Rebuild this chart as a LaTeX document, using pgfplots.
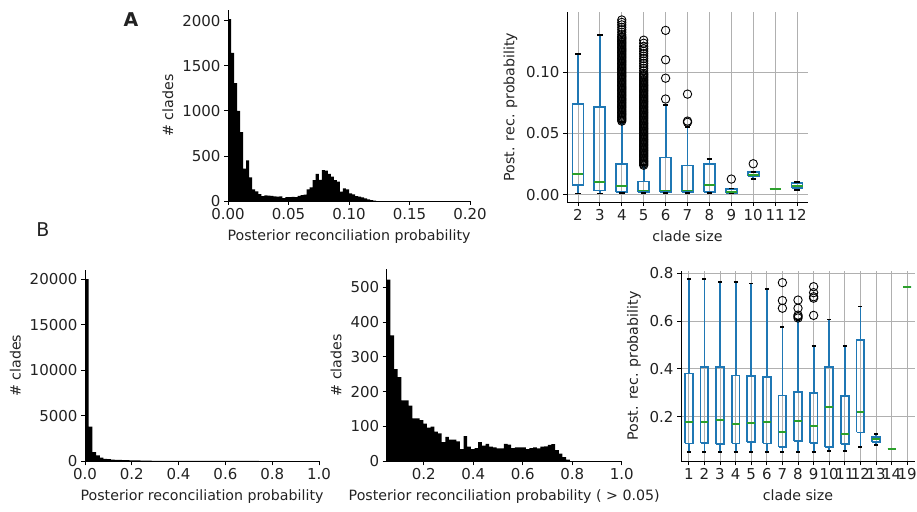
\documentclass[border=0pt]{standalone}
\usepackage{fontspec}
\setmainfont{DejaVu Sans}
\usepackage{pgfplots}
\pgfplotsset{compat=1.18}
\definecolor{c0}{HTML}{1F77B4}
\definecolor{c2}{HTML}{2CA02C}
\definecolor{gridc}{HTML}{B0B0B0}
\definecolor{txt}{HTML}{222222}
\pgfplotsset{
  base/.style={
    scale only axis, at={(0pt,0pt)}, anchor=south west,
    axis x line*=bottom, axis y line*=left,
    tick align=outside, tick pos=left,
    major tick length=4pt,
    every tick/.style={black, line width=0.9pt},
    axis line style={black, line width=0.9pt},
    tick label style={font=\fontsize{15}{17}\selectfont, text=txt},
    label style={font=\fontsize{14.2}{16}\selectfont, text=txt},
    xlabel style={yshift=-3pt},
    ylabel style={yshift=2pt},
    /pgf/number format/assume math mode=true,
    scaled ticks=false, clip=false,
  },
  boxax/.style={base, grid=major, grid style={gridc, line width=0.9pt}},
  outl/.style={only marks, mark=o, mark size=4.2pt, mark options={draw=black, fill=none, line width=0.9pt}},
}
% box: position, lower whisker, lower quartile, median, upper quartile, upper whisker
\newcommand\bx[6]{%
  \pgfmathsetmacro\bxl{#1-0.25}\pgfmathsetmacro\bxr{#1+0.25}%
  \pgfmathsetmacro\cpl{#1-0.125}\pgfmathsetmacro\cpr{#1+0.125}%
  \addplot[c0, line width=1.8pt] coordinates {(#1,#2) (#1,#3)};
  \addplot[c0, line width=1.8pt] coordinates {(#1,#5) (#1,#6)};
  \addplot[c0, line width=1.8pt] coordinates {(\bxl,#3) (\bxr,#3) (\bxr,#5) (\bxl,#5) (\bxl,#3)};
  \addplot[black, line width=1.8pt] coordinates {(\cpl,#2) (\cpr,#2)};
  \addplot[black, line width=1.8pt] coordinates {(\cpl,#6) (\cpr,#6)};
  \addplot[c2, line width=1.8pt] coordinates {(\bxl,#4) (\bxr,#4)};
}
\begin{document}
\begin{tikzpicture}
\path[use as bounding box] (0pt,0pt) rectangle (917pt,511pt);

% ---------- A left histogram
\begin{scope}[shift={(228pt,310pt)}]
\begin{axis}[base, width=242pt, height=191pt,
  xmin=0, xmax=0.2, ymin=0, ymax=2121,
  xtick={0,0.05,0.1,0.15,0.2}, xticklabels={0.00,0.05,0.10,0.15,0.20},
  ytick={0,500,1000,1500,2000}, yticklabels={0,500,1000,1500,2000},
  xlabel={Posterior reconciliation probability}, ylabel={\# clades}]
\addplot[fill=black, draw=none, const plot mark left] coordinates {
(0,2020) (0.0025,1645) (0.005,1310) (0.0075,1000) (0.01,765) (0.0125,360) (0.015,450) (0.0175,262)
(0.02,130) (0.0225,108) (0.025,75) (0.0275,55) (0.03,62) (0.0325,60) (0.035,57) (0.0375,52)
(0.04,48) (0.0425,52) (0.045,32) (0.0475,42) (0.05,42) (0.0525,46) (0.055,44) (0.0575,58)
(0.06,65) (0.0625,70) (0.065,130) (0.0675,150) (0.07,233) (0.0725,300) (0.075,235) (0.0775,344)
(0.08,337) (0.0825,300) (0.085,270) (0.0875,233) (0.09,214) (0.0925,104) (0.095,140) (0.0975,130)
(0.1,85) (0.1025,74) (0.105,55) (0.1075,48) (0.11,41) (0.1125,30) (0.115,18) (0.1175,11)
(0.12,4) (0.1225,0)} \closedcycle;
\end{axis}
\end{scope}

% ---------- A right boxplot
\begin{scope}[shift={(567pt,309pt)}]
\begin{axis}[boxax, width=241pt, height=190pt,
  xmin=0.5, xmax=11.5, ymin=-0.006, ymax=0.149,
  xtick={1,2,3,4,5,6,7,8,9,10,11}, xticklabels={2,3,4,5,6,7,8,9,10,11,12},
  ytick={0,0.05,0.1}, yticklabels={0.00,0.05,0.10},
  xlabel={clade size}, ylabel={Post. rec. probability}]
\bx{1}{0.001}{0.0076}{0.0168}{0.074}{0.1146}
\bx{2}{0.001}{0.0033}{0.0106}{0.0718}{0.130}
\bx{3}{0.0016}{0.002}{0.0068}{0.0252}{0.059}
\bx{4}{0.0016}{0.002}{0.0033}{0.0108}{0.024}
\bx{5}{0.0016}{0.002}{0.0033}{0.0303}{0.073}
\bx{6}{0.0016}{0.002}{0.0033}{0.0238}{0.0555}
\bx{7}{0.0016}{0.0022}{0.0076}{0.025}{0.029}
\bx{8}{0.0011}{0.0013}{0.0024}{0.0046}{0.005}
\bx{9}{0.013}{0.0149}{0.0163}{0.0184}{0.0185}
\bx{10}{0.0046}{0.0046}{0.0046}{0.0046}{0.0046}
\bx{11}{0.0035}{0.0057}{0.007}{0.0092}{0.0105}
\addplot[outl] coordinates {
(3,0.1425) (3,0.1405) (3,0.1385) (3,0.1365) (3,0.1345) (3,0.1325) (3,0.1305) (3,0.129) (3,0.128) (3,0.127)
(3,0.126) (3,0.125) (3,0.124) (3,0.123) (3,0.122) (3,0.121) (3,0.120) (3,0.119) (3,0.118) (3,0.117)
(3,0.116) (3,0.115) (3,0.114) (3,0.113) (3,0.112) (3,0.111) (3,0.110) (3,0.109) (3,0.108) (3,0.107)
(3,0.106) (3,0.105) (3,0.104) (3,0.103) (3,0.102) (3,0.101) (3,0.100) (3,0.099) (3,0.098) (3,0.097)
(3,0.096) (3,0.095) (3,0.094) (3,0.093) (3,0.092) (3,0.091) (3,0.090) (3,0.089) (3,0.088) (3,0.087)
(3,0.086) (3,0.085) (3,0.084) (3,0.083) (3,0.082) (3,0.081) (3,0.080) (3,0.079) (3,0.078) (3,0.077)
(3,0.076) (3,0.075) (3,0.074) (3,0.073) (3,0.072) (3,0.071) (3,0.070) (3,0.069) (3,0.068) (3,0.067)
(3,0.066) (3,0.065) (3,0.064) (3,0.063) (3,0.062) (3,0.061) (3,0.060)
(4,0.126) (4,0.1235) (4,0.121) (4,0.119) (4,0.117) (4,0.115) (4,0.113) (4,0.111) (4,0.109) (4,0.107)
(4,0.105) (4,0.103) (4,0.101) (4,0.099) (4,0.098) (4,0.097) (4,0.096) (4,0.095) (4,0.094) (4,0.093)
(4,0.092) (4,0.091) (4,0.090) (4,0.089) (4,0.088) (4,0.087) (4,0.086) (4,0.085) (4,0.084) (4,0.083)
(4,0.082) (4,0.081) (4,0.080) (4,0.079) (4,0.078) (4,0.077) (4,0.076) (4,0.075) (4,0.074) (4,0.073)
(4,0.072) (4,0.071) (4,0.070) (4,0.069) (4,0.068) (4,0.067) (4,0.066) (4,0.065) (4,0.064) (4,0.063)
(4,0.062) (4,0.061) (4,0.060) (4,0.059) (4,0.058) (4,0.057) (4,0.056) (4,0.055) (4,0.054) (4,0.053)
(4,0.052) (4,0.051) (4,0.050) (4,0.049) (4,0.048) (4,0.047) (4,0.046) (4,0.045) (4,0.044) (4,0.043)
(4,0.042) (4,0.041) (4,0.040) (4,0.039) (4,0.038) (4,0.037) (4,0.036) (4,0.035) (4,0.034) (4,0.033)
(4,0.032) (4,0.031) (4,0.030) (4,0.029) (4,0.028) (4,0.027) (4,0.026) (4,0.025) (4,0.024)
(5,0.078) (5,0.095) (5,0.110) (5,0.134)
(6,0.059) (6,0.060) (6,0.082)
(8,0.0127) (9,0.0252)};
\end{axis}
\end{scope}

% ---------- B left histogram
\begin{scope}[shift={(85pt,49.7pt)}]
\begin{axis}[base, width=234pt, height=191.3pt,
  xmin=0, xmax=1, ymin=0, ymax=21021,
  xtick={0,0.2,0.4,0.6,0.8,1}, xticklabels={0.0,0.2,0.4,0.6,0.8,1.0},
  ytick={0,5000,10000,15000,20000}, yticklabels={0,5000,10000,15000,20000},
  xlabel={Posterior reconciliation probability}, ylabel={\# clades}]
\addplot[fill=black, draw=none, const plot mark left] coordinates {
(0,20020) (0.0158,3800) (0.0316,1000) (0.0474,650) (0.0632,400) (0.079,280) (0.0948,240) (0.1106,180)
(0.1264,170) (0.1422,150) (0.158,125) (0.1738,120) (0.1896,110) (0.2054,100) (0.2212,90) (0.237,85)
(0.2528,75) (0.2686,65) (0.2844,60) (0.3002,60) (0.316,55) (0.3318,50) (0.3476,45) (0.3634,45)
(0.3792,45) (0.395,45) (0.4108,40) (0.4266,40) (0.4424,40) (0.4582,40) (0.474,40) (0.4898,40)
(0.5056,40) (0.5214,40) (0.5372,40) (0.553,40) (0.5688,40) (0.5846,40) (0.6004,40) (0.6162,40)
(0.632,40) (0.6478,40) (0.6636,40) (0.6794,40) (0.6952,45) (0.711,45) (0.7268,35) (0.7426,20)
(0.7584,10) (0.7742,5) (0.79,0)} \closedcycle;
\end{axis}
\end{scope}

% ---------- B middle histogram
\begin{scope}[shift={(386.7pt,49.7pt)}]
\begin{axis}[base, width=235pt, height=192pt,
  xmin=0.05, xmax=1, ymin=0, ymax=551.7,
  xtick={0.2,0.4,0.6,0.8,1}, xticklabels={0.2,0.4,0.6,0.8,1.0},
  ytick={0,100,200,300,400,500}, yticklabels={0,100,200,300,400,500},
  xlabel={Posterior reconciliation probability ( > 0.05)}, ylabel={\# clades}]
\addplot[fill=black, draw=none, const plot mark left] coordinates {
(0.05,522) (0.0648,362) (0.0796,265) (0.0944,242) (0.1092,175) (0.124,175) (0.1388,160) (0.1536,123)
(0.1684,123) (0.1832,118) (0.198,108) (0.2128,97) (0.2276,100) (0.2424,85) (0.2572,80) (0.272,55)
(0.2868,70) (0.3016,62) (0.3164,62) (0.3312,57) (0.346,35) (0.3608,72) (0.3756,42) (0.3904,35)
(0.4052,38) (0.42,55) (0.4348,45) (0.4496,50) (0.4644,42) (0.4792,40) (0.494,37) (0.5088,37)
(0.5236,50) (0.5384,48) (0.5532,38) (0.568,40) (0.5828,40) (0.5976,40) (0.6124,35) (0.6272,38)
(0.642,40) (0.6568,37) (0.6716,42) (0.6864,43) (0.7012,47) (0.716,49) (0.7308,32) (0.7456,22)
(0.7604,12) (0.7752,5) (0.79,0)} \closedcycle;
\end{axis}
\end{scope}

% ---------- B right boxplot
\begin{scope}[shift={(681pt,50pt)}]
\begin{axis}[boxax, width=234pt, height=190.3pt,
  xmin=0.5, xmax=15.5, ymin=0.0144, ymax=0.811,
  xtick={1,2,3,4,5,6,7,8,9,10,11,12,13,14,15}, xticklabels={1,2,3,4,5,6,7,8,9,10,11,12,13,14,19},
  ytick={0.2,0.4,0.6,0.8}, yticklabels={0.2,0.4,0.6,0.8},
  xlabel={clade size}, ylabel={Post. rec. probability}]
\bx{1}{0.052}{0.088}{0.179}{0.381}{0.776}
\bx{2}{0.052}{0.091}{0.176}{0.409}{0.776}
\bx{3}{0.052}{0.085}{0.185}{0.409}{0.765}
\bx{4}{0.052}{0.088}{0.169}{0.372}{0.765}
\bx{5}{0.052}{0.094}{0.175}{0.369}{0.757}
\bx{6}{0.052}{0.088}{0.179}{0.365}{0.735}
\bx{7}{0.052}{0.074}{0.137}{0.289}{0.574}
\bx{8}{0.052}{0.098}{0.182}{0.302}{0.605}
\bx{9}{0.052}{0.091}{0.162}{0.300}{0.497}
\bx{10}{0.056}{0.072}{0.242}{0.407}{0.607}
\bx{11}{0.056}{0.086}{0.126}{0.288}{0.497}
\bx{12}{0.072}{0.134}{0.221}{0.521}{0.661}
\bx{13}{0.081}{0.093}{0.106}{0.116}{0.127}
\bx{14}{0.065}{0.065}{0.065}{0.065}{0.065}
\bx{15}{0.744}{0.744}{0.744}{0.744}{0.744}
\addplot[outl] coordinates {
(7,0.761) (7,0.686) (7,0.654)
(8,0.688) (8,0.654) (8,0.625) (8,0.619) (8,0.613)
(9,0.744) (9,0.719) (9,0.702) (9,0.696) (9,0.624)};
\end{axis}
\end{scope}

\node[font=\fontsize{19}{20}\selectfont\bfseries, text=txt] at (131pt,491pt) {A};
\node[font=\fontsize{19}{20}\selectfont, text=txt] at (43pt,281pt) {B};
\end{tikzpicture}
\end{document}
